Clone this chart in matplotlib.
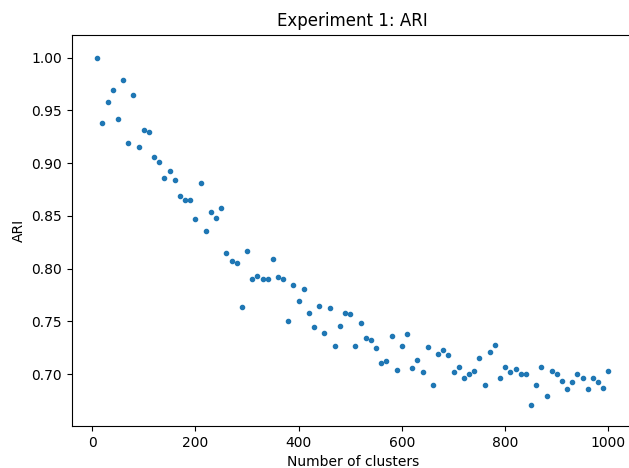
import matplotlib
matplotlib.use("Agg")
import matplotlib.pyplot as plt

n_clusters = list(range(10, 1001, 10))

ari = [
    1.000, 0.938, 0.958, 0.969, 0.942, 0.979, 0.919, 0.965, 0.915, 0.931,
    0.930, 0.906, 0.901, 0.886, 0.893, 0.884, 0.869, 0.865, 0.865, 0.847,
    0.881, 0.836, 0.854, 0.848, 0.857, 0.815, 0.807, 0.805, 0.764, 0.817,
    0.790, 0.793, 0.790, 0.790, 0.809, 0.792, 0.790, 0.750, 0.784, 0.769,
    0.781, 0.758, 0.745, 0.765, 0.739, 0.763, 0.727, 0.746, 0.758, 0.757,
    0.727, 0.748, 0.734, 0.732, 0.725, 0.710, 0.712, 0.736, 0.704, 0.727,
    0.738, 0.706, 0.713, 0.702, 0.726, 0.690, 0.719, 0.723, 0.718, 0.702,
    0.707, 0.696, 0.700, 0.703, 0.715, 0.690, 0.721, 0.728, 0.696, 0.707,
    0.702, 0.705, 0.700, 0.700, 0.671, 0.690, 0.707, 0.679, 0.703, 0.700,
    0.693, 0.686, 0.692, 0.700, 0.696, 0.686, 0.696, 0.692, 0.687, 0.703,
]

fig = plt.figure(figsize=(6.29, 4.68), dpi=100)
ax = fig.add_axes([0.114, 0.0897, 0.894, 0.8361])

ax.plot(n_clusters, ari, ".")

ax.set_ylim(0.6507, 1.0218)
ax.set_title("Experiment 1: ARI")
ax.set_xlabel("Number of clusters")
ax.set_ylabel("ARI")

fig.savefig("out.png", dpi=100)
